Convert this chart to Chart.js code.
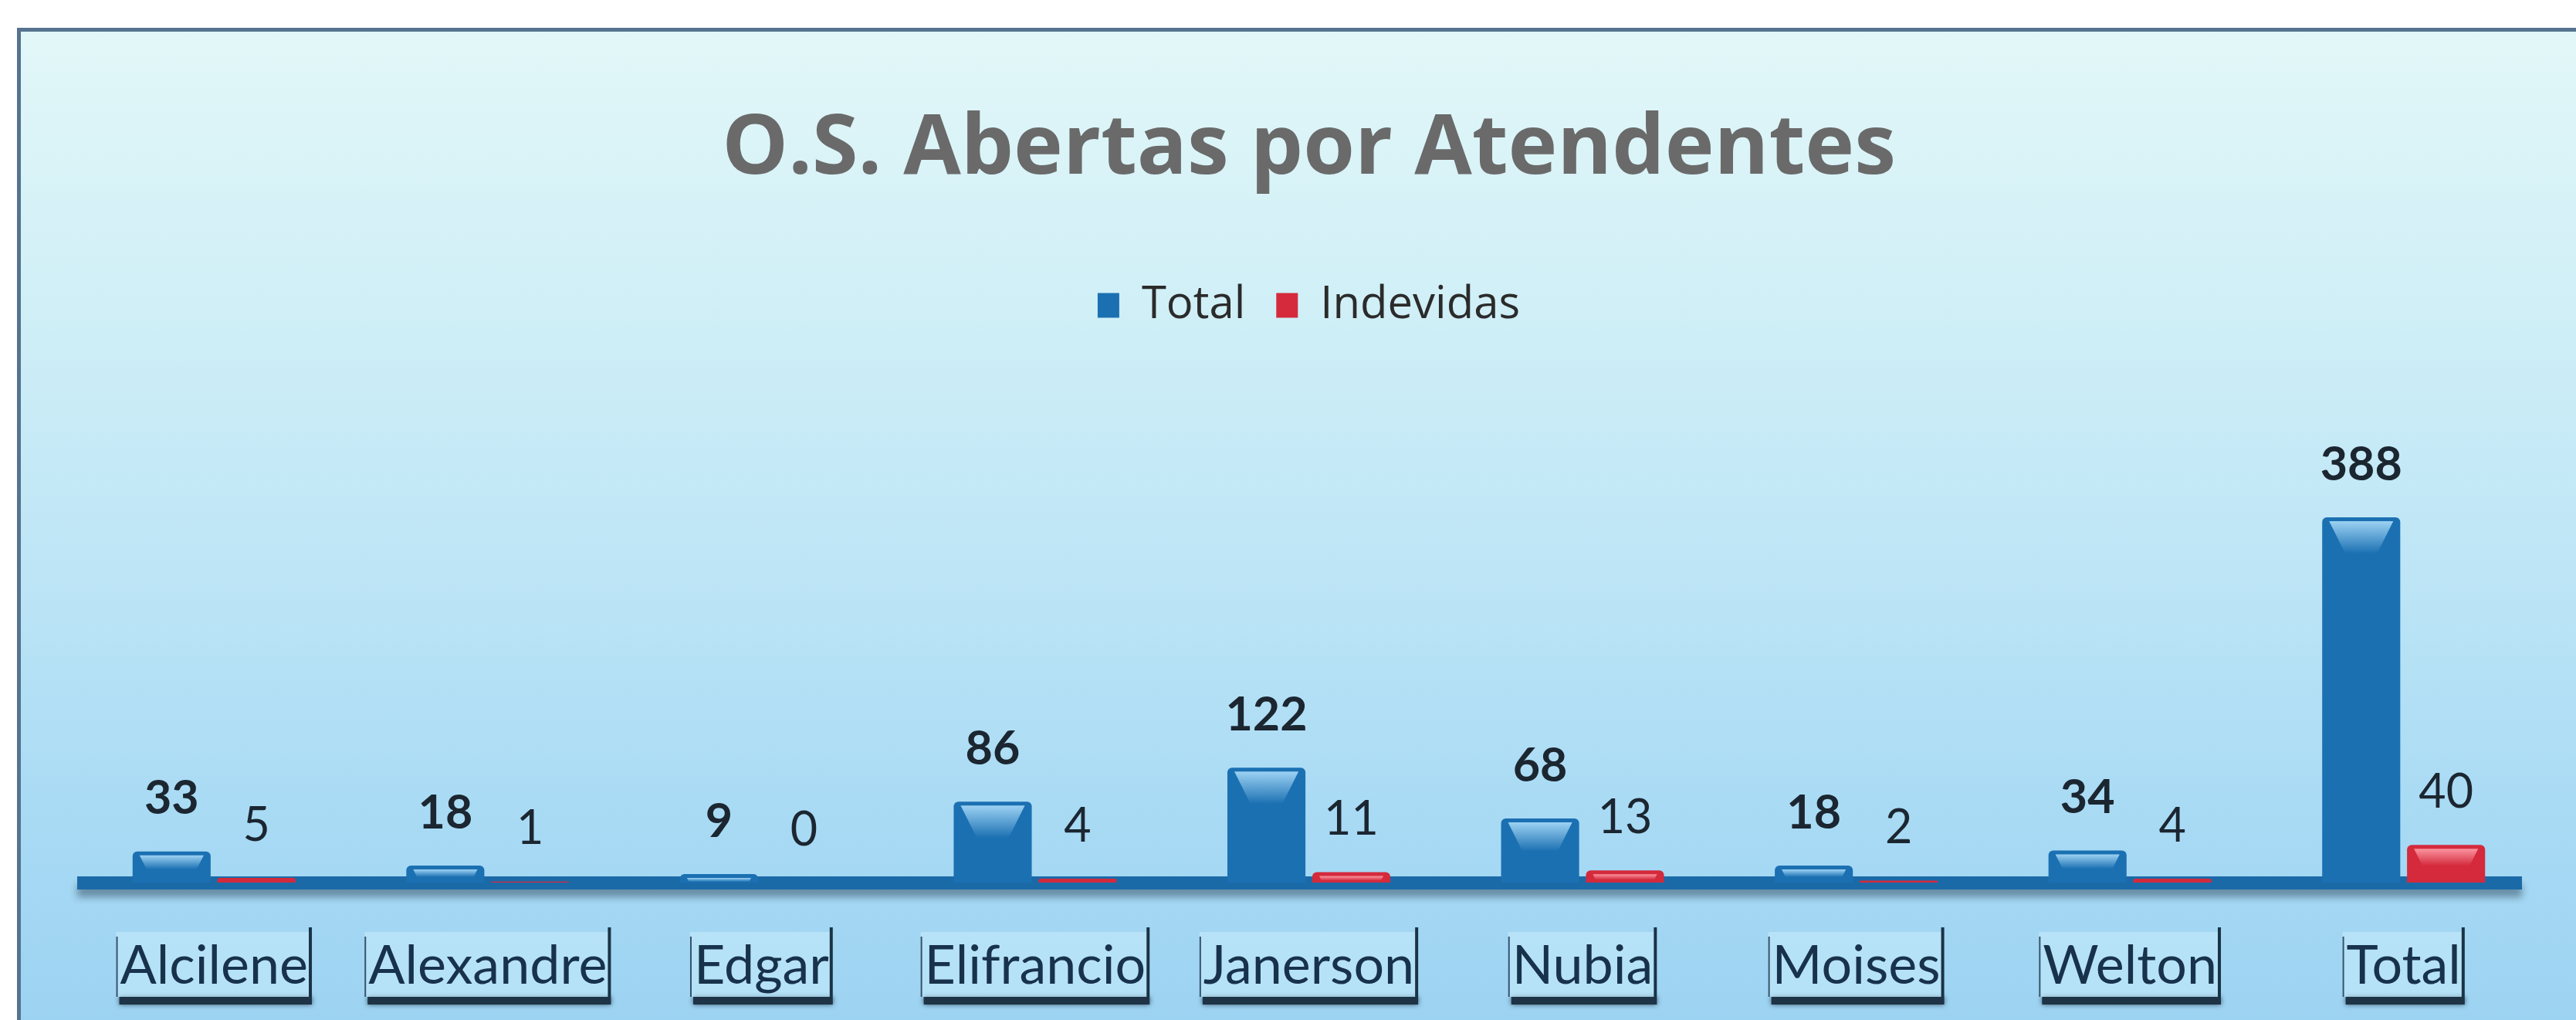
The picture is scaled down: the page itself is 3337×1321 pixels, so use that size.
<!DOCTYPE html>
<html>
<head>
<meta charset="utf-8">
<script src="https://cdn.jsdelivr.net/npm/chart.js@4.4.1/dist/chart.umd.min.js"></script>
<style>
    html, body { margin: 0; padding: 0; background: #fff; width: 3337px; height: 1321px; overflow: hidden; }
    #frame {
        position: absolute; left: 22px; top: 36px; width: 3315px; height: 1285px;
        box-sizing: border-box; overflow: hidden;
        border-top: 5px solid #56738f; border-left: 5px solid #56738f;
        background: linear-gradient(to bottom, #e2f7f8 0%, #d2f0f7 25%, #bde5f6 55%, #a8daf4 80%, #9dd3f2 100%);
    }
    #frame canvas { display: block; }
</style>
</head>
<body>
<div id="frame"><canvas id="osChart" width="3310" height="1346"></canvas></div>
<script>
// dados
const atendentes = ['Alcilene', 'Alexandre', 'Edgar', 'Elifrancio', 'Janerson', 'Nubia', 'Moises', 'Welton', 'Total'];
const totalOS = [33, 18, 9, 86, 122, 68, 18, 34, 388];
const indevidas = [5, 1, 0, 4, 11, 13, 2, 4, 40];

const FONT = 'Lato, "Open Sans", sans-serif';
const WIDE = '"Open Sans", Lato, sans-serif';

// linha do eixo com sombra
const axisLine = {
    id: 'axisLine',
    beforeDatasetsDraw(chart) {
        const ctx = chart.ctx;
        const xs = chart.scales.x;
        const y0 = chart.scales.y.getPixelForValue(0);
        ctx.save();
        ctx.shadowColor = 'rgba(30, 50, 70, 0.45)';
        ctx.shadowBlur = 10;
        ctx.shadowOffsetY = 10;
        ctx.fillStyle = '#1b6aa8';
        ctx.fillRect(xs.left, y0 - 8, xs.right - xs.left - 24, 17);
        ctx.restore();
    }
};

// caixas atrás dos nomes
const labelBoxes = {
    id: 'labelBoxes',
    beforeDraw(chart) {
        const ctx = chart.ctx;
        const xs = chart.scales.x;
        const f = xs.options.ticks.font;
        const cy = xs.top + xs.options.ticks.padding + f.size * 0.6;
        ctx.save();
        ctx.font = f.size + 'px ' + f.family;
        xs.ticks.forEach((t, i) => {
            const x = xs.getPixelForTick(i);
            const w = ctx.measureText(atendentes[i]).width;
            const l = x - w / 2 - 5, r = x + w / 2 + 5;
            const top = cy - 44, bot = cy + 40;
            // sombra inferior
            ctx.save();
            ctx.shadowColor = 'rgba(10, 30, 45, 0.7)';
            ctx.shadowBlur = 6;
            ctx.fillStyle = '#1e3446';
            ctx.fillRect(l + 4, bot, r - l - 4, 10);
            ctx.restore();
            ctx.fillStyle = 'rgba(200, 236, 252, 0.55)';
            ctx.fillRect(l, top, r - l, bot - top);
            ctx.fillStyle = '#33536c';
            ctx.fillRect(l, top + 6, 2, bot - top - 6);
            ctx.fillStyle = '#1a3347';
            ctx.fillRect(r - 4, top - 6, 4, bot - top + 6);
        });
        ctx.restore();
    }
};

// brilho no topo das barras
const barGloss = {
    id: 'barGloss',
    afterDatasetsDraw(chart) {
        const ctx = chart.ctx;
        chart.data.datasets.forEach((ds, di) => {
            const meta = chart.getDatasetMeta(di);
            const tint = di === 0 ? '170, 220, 250' : '255, 160, 170';
            meta.data.forEach(el => {
                const h = el.base - el.y;
                if (h < 8) return;
                const l = el.x - el.width / 2, r = el.x + el.width / 2;
                const top = el.y + 5;
                const gh = Math.min(h * 0.45, 42);
                const g = ctx.createLinearGradient(0, top, 0, top + gh);
                g.addColorStop(0, 'rgba(' + tint + ', 0.9)');
                g.addColorStop(1, 'rgba(' + tint + ', 0)');
                ctx.save();
                ctx.fillStyle = g;
                ctx.beginPath();
                ctx.moveTo(l + 9, top);
                ctx.lineTo(r - 9, top);
                ctx.lineTo(r - 9 - gh * 0.5, top + gh);
                ctx.lineTo(l + 9 + gh * 0.5, top + gh);
                ctx.closePath();
                ctx.fill();
                ctx.restore();
            });
        });
    }
};

// rótulos de valor
const valueLabels = {
    id: 'valueLabels',
    afterDatasetsDraw(chart) {
        const ctx = chart.ctx;
        ctx.save();
        ctx.textAlign = 'center';
        ctx.textBaseline = 'middle';
        ctx.fillStyle = '#1b2631';
        chart.data.datasets.forEach((ds, di) => {
            ctx.font = (di === 0 ? 'bold ' : '') + '61px ' + FONT;
            chart.getDatasetMeta(di).data.forEach((el, i) => {
                ctx.fillText(String(ds.data[i]), el.x, el.y - 68);
            });
        });
        ctx.restore();
    }
};

new Chart(document.getElementById('osChart'), {
    type: 'bar',
    data: {
        labels: atendentes,
        datasets: [
            {
                label: 'Total',
                data: totalOS,
                backgroundColor: '#1b70b2',
                borderRadius: { topLeft: 6, topRight: 6 },
                borderSkipped: 'start',
                categoryPercentage: 0.62,
                barPercentage: 0.92
            },
            {
                label: 'Indevidas',
                data: indevidas,
                backgroundColor: '#d42a3c',
                borderRadius: { topLeft: 6, topRight: 6 },
                borderSkipped: 'start',
                categoryPercentage: 0.62,
                barPercentage: 0.92
            }
        ]
    },
    options: {
        responsive: false,
        animation: false,
        layout: { padding: { left: 73, right: 46, top: 0, bottom: 28 } },
        plugins: {
            title: {
                display: true,
                text: 'O.S. Abertas por Atendentes',
                color: '#6a6a6a',
                font: { family: WIDE, size: 108, weight: 'bold' },
                padding: { top: 88, bottom: 68 }
            },
            legend: {
                display: true,
                position: 'top',
                labels: {
                    color: '#2b2b2b',
                    font: { family: WIDE, size: 58 },
                    boxWidth: 28,
                    boxHeight: 32,
                    padding: 40
                }
            },
            tooltip: { enabled: false }
        },
        scales: {
            x: {
                grid: { display: false, drawTicks: false },
                border: { display: false },
                ticks: {
                    color: '#17324a',
                    font: { family: FONT, size: 70 },
                    padding: 66,
                    maxRotation: 0,
                    autoSkip: false
                }
            },
            y: {
                display: false,
                min: 0,
                max: 581
            }
        }
    },
    plugins: [axisLine, labelBoxes, barGloss, valueLabels]
});
</script>
</body>
</html>
